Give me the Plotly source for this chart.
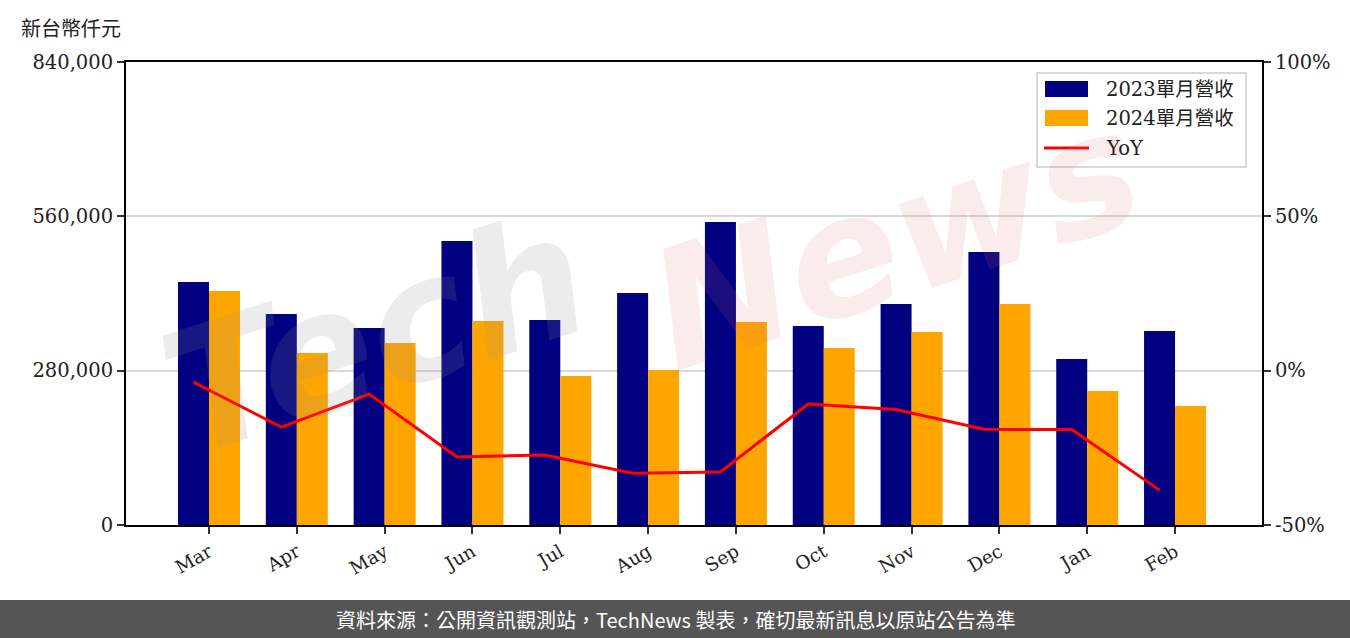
import plotly.graph_objects as go
import numpy as np

months = ["Mar", "Apr", "May", "Jun", "Jul", "Aug", "Sep", "Oct", "Nov", "Dec", "Jan", "Feb"]
rev_2023 = [440900, 382800, 357400, 515300, 371900, 420900, 549700, 361000, 401000, 495300, 301200, 352000]
rev_2024 = [424500, 312100, 330200, 370100, 270300, 281200, 368300, 321100, 350200, 401000, 243100, 215900]
yoy = [-3.7, -18.3, -7.6, -28.0, -27.3, -33.2, -32.8, -10.8, -12.6, -19.0, -19.1, -38.7]

left_ticks = [0, 280000, 560000, 840000]
right_ticks = [-50, 0, 50, 100]
series_names = ["2023單月營收", "2024單月營收", "YoY"]
colors = ["#000080", "#FFA500", "#FF0000"]

idx = np.arange(len(months))
w = 0.353
SERIF = "DejaVu Serif, Noto Sans CJK TC, serif"

L, R, T, B = 126, 88, 62, 113
W, H = 1350, 638
PW, PH = W - L - R, H - T - B


def px(xp):
    return (xp - L) / PW


def py(yp):
    return (H - B - yp) / PH


fig = go.Figure()
fig.add_trace(go.Bar(x=idx, y=rev_2023, width=w, offset=-w, name=series_names[0], showlegend=False,
                     marker=dict(color=colors[0], line=dict(width=0))))
fig.add_trace(go.Bar(x=idx, y=rev_2024, width=w, offset=0, name=series_names[1], showlegend=False,
                     marker=dict(color=colors[1], line=dict(width=0))))
fig.add_trace(go.Scatter(x=idx - w / 2, y=yoy, name=series_names[2], yaxis="y2", mode="lines",
                         showlegend=False, line=dict(color=colors[2], width=3)))

fig.update_layout(
    width=W, height=H,
    margin=dict(l=L, r=R, t=T, b=B),
    plot_bgcolor="white", paper_bgcolor="white",
    barmode="overlay",
    font=dict(family=SERIF, size=18, color="#222"),
    xaxis=dict(range=[-0.945, 11.99], tickvals=list(idx), ticktext=months, tickangle=-30,
               showline=True, linecolor="black", linewidth=2, mirror=True,
               ticks="outside", ticklen=7, tickwidth=2, tickcolor="#333",
               showgrid=False, zeroline=False, tickfont=dict(size=18.5)),
    yaxis=dict(range=[0, 840000], tickvals=left_ticks,
               ticktext=[f"{v:,}" for v in left_ticks],
               showline=True, linecolor="black", linewidth=2,
               ticks="outside", ticklen=7, tickwidth=2, tickcolor="#333",
               showgrid=True, gridcolor="#d9d9d9", gridwidth=2, zeroline=False,
               tickfont=dict(size=19.5)),
    yaxis2=dict(range=[-50, 100], tickvals=right_ticks,
                ticktext=[f"{v}%" for v in right_ticks],
                overlaying="y", side="right",
                showline=True, linecolor="black", linewidth=2,
                ticks="outside", ticklen=7, tickwidth=2, tickcolor="#333",
                showgrid=False, zeroline=False, tickfont=dict(size=19.5)),
    showlegend=False,
)

# watermark
fig.add_annotation(text="Tech", xref="paper", yref="paper", x=px(375), y=py(335),
                   xanchor="center", yanchor="middle",
                   showarrow=False, textangle=-18,
                   font=dict(family="DejaVu Sans", size=170, color="rgba(140,140,140,0.17)",
                             style="italic", weight="bold"))
fig.add_annotation(text="News", xref="paper", yref="paper", x=px(895), y=py(240),
                   xanchor="center", yanchor="middle",
                   showarrow=False, textangle=-18,
                   font=dict(family="DejaVu Sans", size=165, color="rgba(220,110,110,0.13)",
                             style="italic", weight="bold"))

# legend (drawn manually to match wide swatches)
fig.add_shape(type="rect", xref="paper", yref="paper", x0=px(1037), x1=px(1246), y0=py(167), y1=py(73),
              fillcolor="rgba(255,255,255,0.85)", line=dict(color="#cccccc", width=1.5), layer="above")
fig.add_shape(type="rect", xref="paper", yref="paper", x0=px(1045), x1=px(1088), y0=py(97), y1=py(81),
              fillcolor=colors[0], line=dict(width=0), layer="above")
fig.add_shape(type="rect", xref="paper", yref="paper", x0=px(1045), x1=px(1088), y0=py(126), y1=py(110),
              fillcolor=colors[1], line=dict(width=0), layer="above")
fig.add_shape(type="line", xref="paper", yref="paper", x0=px(1044), x1=px(1089), y0=py(148), y1=py(148),
              line=dict(color=colors[2], width=3), layer="above")
for name, yc in zip(series_names, [89, 118, 148]):
    fig.add_annotation(text=name, xref="paper", yref="paper", x=px(1104), y=py(yc),
                       xanchor="left", yanchor="middle", showarrow=False,
                       font=dict(family=SERIF, size=19.5, color="#222"))

# unit label
fig.add_annotation(text="新台幣仟元", xref="paper", yref="paper",
                   x=px(19), y=py(27), xanchor="left", yanchor="middle",
                   showarrow=False, font=dict(family="Noto Sans CJK TC", size=20, color="#222"))

# footer band
fig.add_shape(type="rect", xref="paper", yref="paper",
              x0=px(0), x1=px(W), y0=py(H + 2), y1=py(600),
              fillcolor="#555555", line=dict(width=0), layer="above")
fig.add_annotation(text="資料來源：公開資訊觀測站，TechNews 製表，確切最新訊息以原站公告為準",
                   xref="paper", yref="paper", x=px(675), y=py(619),
                   xanchor="center", yanchor="middle", showarrow=False,
                   font=dict(family="Noto Sans CJK TC", size=20, color="white"))

fig.write_html("out.html", config={"displayModeBar": False},
               post_script="document.body.style.margin='0';document.body.style.overflow='hidden';")
